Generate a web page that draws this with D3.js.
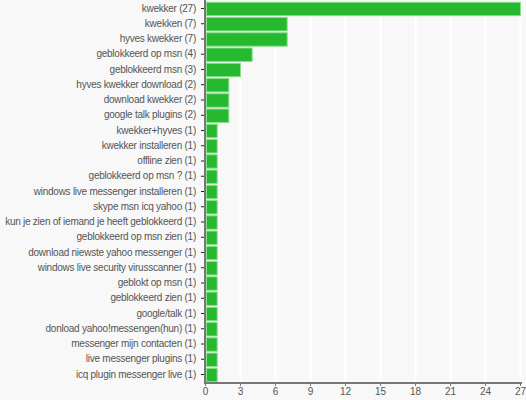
<!DOCTYPE html>
<html>
<head>
<meta charset="utf-8">
<script src="https://cdn.jsdelivr.net/npm/d3@7"></script>
<style>
  body { margin: 0; background: #f8f8f8; }
  svg { display: block; }
</style>
</head>
<body>
<div id="chart"></div>
<script>
// Data: search terms and their counts
var terms = [
    "kwekker", "kwekken", "hyves kwekker", "geblokkeerd op msn", "geblokkeerd msn",
    "hyves kwekker download", "download kwekker", "google talk plugins", "kwekker+hyves",
    "kwekker installeren", "offline zien", "geblokkeerd op msn ?",
    "windows live messenger installeren", "skype msn icq yahoo",
    "kun je zien of iemand je heeft geblokkeerd", "geblokkeerd op msn zien",
    "download niewste yahoo messenger", "windows live security virusscanner",
    "geblokt op msn", "geblokkeerd zien", "google/talk", "donload yahoo!messengen(hun)",
    "messenger mijn contacten", "live messenger plugins", "icq plugin messenger live"
];
var counts = [27, 7, 7, 4, 3, 2, 2, 2, 1, 1, 1, 1, 1, 1, 1, 1, 1, 1, 1, 1, 1, 1, 1, 1, 1];
var xTicks = [0, 3, 6, 9, 12, 15, 18, 21, 24, 27];

// Set the dimensions and margins of the graph
var margin = {top: 1, right: 6, bottom: 18, left: 205},
    width = 526 - margin.left - margin.right,
    height = 400 - margin.top - margin.bottom;

var svg = d3.select("#chart")
    .append("svg")
    .attr("width", 526)
    .attr("height", 400)
    .style("font-family", "'Liberation Sans', Arial, sans-serif");

svg.append("rect")
    .attr("width", 526)
    .attr("height", 400)
    .attr("fill", "#f8f8f8");

var g = svg.append("g")
    .attr("transform", "translate(" + margin.left + "," + margin.top + ")");

var labels = terms.map((t, i) => t + " (" + counts[i] + ")");

// Scales
var x = d3.scaleLinear()
    .domain([0, 27])
    .range([0, 315]);

var y = d3.scaleBand()
    .domain(labels)
    .range([0, height])
    .paddingInner(0.12)
    .paddingOuter(0.05);

// Vertical grid lines
g.selectAll(".grid")
    .data(xTicks.slice(1))
    .enter().append("line")
    .attr("class", "grid")
    .attr("x1", d => x(d) + 0.5)
    .attr("x2", d => x(d) + 0.5)
    .attr("y1", 0)
    .attr("y2", height)
    .attr("stroke", "#ffffff")
    .attr("stroke-width", 2);

// Bars
g.selectAll(".bar")
    .data(counts)
    .enter().append("rect")
    .attr("class", "bar")
    .attr("x", 1.5)
    .attr("y", (d, i) => y(labels[i]) + 0.5)
    .attr("width", d => x(d) - 1)
    .attr("height", y.bandwidth())
    .attr("fill", "#26b82e")
    .attr("stroke", "#86e08a")
    .attr("stroke-width", 1);

// Y axis
var yAxis = g.append("g")
    .call(d3.axisLeft(y).tickSize(3).tickPadding(6));
yAxis.select(".domain").remove();
yAxis.selectAll(".tick line").attr("stroke", "#222").attr("transform", "translate(-1,0)");
yAxis.selectAll("text")
    .attr("fill", "#555")
    .style("font-size", "10px")
    .style("letter-spacing", "-0.25px");

g.append("line")
    .attr("x1", 0).attr("x2", 0)
    .attr("y1", -1).attr("y2", height + 1)
    .attr("stroke", "#777")
    .attr("stroke-width", 2);

// X axis
var xAxis = g.append("g")
    .attr("transform", "translate(0," + (height + 1) + ")")
    .call(d3.axisBottom(x).tickValues(xTicks).tickSize(3).tickPadding(2));
xAxis.select(".domain").remove();
xAxis.selectAll(".tick line").attr("stroke", "#777");
xAxis.selectAll("text")
    .attr("fill", "#555")
    .style("font-size", "10px");

g.append("line")
    .attr("x1", -1).attr("x2", 317)
    .attr("y1", height + 1).attr("y2", height + 1)
    .attr("stroke", "#777")
    .attr("stroke-width", 2);
</script>
</body>
</html>
